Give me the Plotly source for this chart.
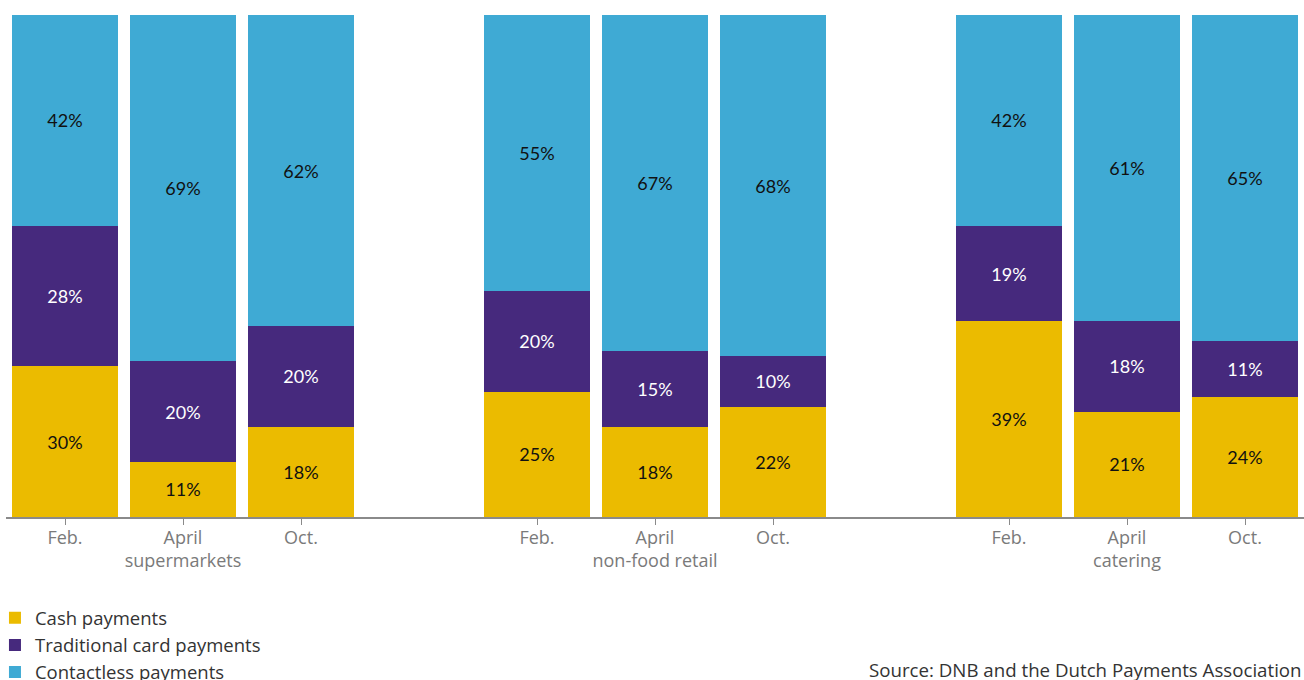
import plotly.graph_objects as go

# Share of payments at the point of sale, by sector and month (percent)
sectors = ["supermarkets", "non-food retail", "catering"]
months = ["Feb.", "April", "Oct."]

cash = [30, 11, 18, 25, 18, 22, 39, 21, 24]
traditional = [28, 20, 20, 20, 15, 10, 19, 18, 11]
contactless = [42, 69, 62, 55, 67, 68, 42, 61, 65]

series = [
    ("Cash payments", cash, "#EBBB00", "#111111"),
    ("Traditional card payments", traditional, "#46297D", "#FFFFFF"),
    ("Contactless payments", contactless, "#3FAAD4", "#111111"),
]

# One slot per month, with an empty slot between sectors
positions = []
tick_text = []
for g, sector in enumerate(sectors):
    for m, month in enumerate(months):
        positions.append(g * 4 + m)
        tick_text.append(f"{month}<br>{sector}" if m == 1 else month)

fig = go.Figure()
for name, values, color, text_color in series:
    fig.add_trace(
        go.Bar(
            name=name,
            x=positions,
            y=values,
            width=0.89,
            marker=dict(color=color, line=dict(width=0)),
            text=[f"{v}%" for v in values],
            textposition="inside",
            insidetextanchor="middle",
            textangle=0,
            constraintext="none",
            textfont=dict(family="Lato", size=18, color=text_color),
            hoverinfo="skip",
        )
    )

fig.update_layout(
    barmode="stack",
    width=1304,
    height=680,
    margin=dict(l=6, r=0, t=15, b=163, autoexpand=False),
    paper_bgcolor="white",
    plot_bgcolor="white",
    font=dict(family="Open Sans", size=18, color="#333333"),
    showlegend=True,
    legend=dict(
        orientation="v",
        traceorder="normal",
        x=-0.0085,
        xanchor="left",
        y=-0.164,
        yanchor="top",
        font=dict(family="Open Sans", size=18.5, color="#333333"),
        itemwidth=30,
        bgcolor="rgba(0,0,0,0)",
    ),
    xaxis=dict(
        range=[-0.5, 10.5],
        tickmode="array",
        tickvals=positions,
        ticktext=tick_text,
        ticks="outside",
        ticklen=6,
        tickwidth=1,
        tickcolor="#8A8A8A",
        ticklabelstandoff=-3,
        showline=True,
        linecolor="#8A8A8A",
        linewidth=2,
        showgrid=False,
        zeroline=False,
        tickfont=dict(family="Open Sans", size=18, color="#7A7A7A"),
        fixedrange=True,
    ),
    yaxis=dict(
        range=[0, 100],
        visible=False,
        showgrid=False,
        zeroline=False,
        fixedrange=True,
    ),
    annotations=[
        dict(
            text="Source: DNB and the Dutch Payments Association",
            xref="paper",
            yref="paper",
            x=1.0,
            y=-0.303,
            xanchor="right",
            yanchor="middle",
            showarrow=False,
            font=dict(family="Open Sans", size=18.7, color="#333333"),
        )
    ],
)

fig.write_html("out.html")
